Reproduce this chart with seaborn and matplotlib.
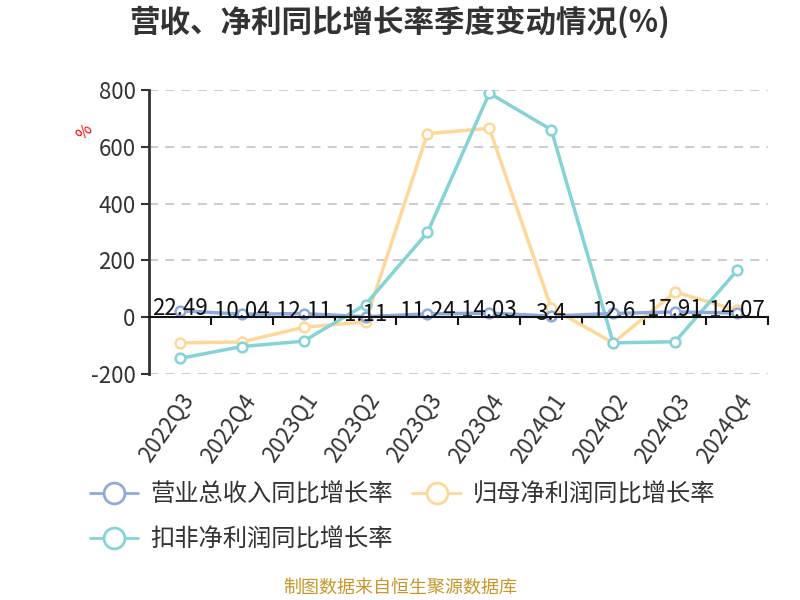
import matplotlib
matplotlib.use('Agg')
import matplotlib.pyplot as plt
import seaborn as sns
import pandas as pd
from matplotlib.ticker import FixedLocator
from matplotlib.lines import Line2D

# data
quarters = ['2022Q3', '2022Q4', '2023Q1', '2023Q2', '2023Q3',
            '2023Q4', '2024Q1', '2024Q2', '2024Q3', '2024Q4']
revenue_yoy = [22.49, 10.04, 12.11, 1.11, 11.24, 14.03, 3.4, 12.6, 17.91, 14.07]
net_profit_yoy = [-91, -88, -36, -17, 646, 665, 32, -91, 88, 24]
deducted_profit_yoy = [-146, -104, -85, 44, 298, 789, 660, -91, -87, 164]

series_names = ['营业总收入同比增长率', '归母净利润同比增长率', '扣非净利润同比增长率']
colors = ['#8eaadc', '#ffd899', '#84d4d7']

sns.set_style('white')
plt.rcParams['font.family'] = ['Noto Sans CJK SC', 'DejaVu Sans']
plt.rcParams['axes.unicode_minus'] = False

df = pd.DataFrame({'quarter': quarters,
                   series_names[0]: revenue_yoy,
                   series_names[1]: net_profit_yoy,
                   series_names[2]: deducted_profit_yoy})
long_df = df.melt(id_vars='quarter', var_name='series', value_name='value')
long_df['pos'] = long_df['quarter'].map({q: i for i, q in enumerate(quarters)})

fig = plt.figure(figsize=(8, 6), dpi=100)
ax = fig.add_axes([0.186, 0.377, 0.774, 0.473])

# draw revenue last so it sits on top
for name, color in zip([series_names[1], series_names[2], series_names[0]],
                       [colors[1], colors[2], colors[0]]):
    sub = long_df[long_df['series'] == name]
    sns.lineplot(data=sub, x='pos', y='value', ax=ax, color=color, linewidth=2.5,
                 marker='o', markersize=7, markerfacecolor='white',
                 markeredgecolor=color, markeredgewidth=1.8, legend=False)

# value labels on revenue line
for i, v in enumerate(revenue_yoy):
    ax.text(i, v + 8, f'{v:g}', ha='center', va='center', fontsize=16, color='#111111')

ax.set_xlim(-0.5, len(quarters) - 0.5)
ax.set_ylim(-200, 800)
ax.set_yticks([-200, 0, 200, 400, 600, 800])
ax.tick_params(axis='y', labelsize=16, labelcolor='#333333', length=6, width=1.5,
               color='#333333', direction='out', left=True)
ax.yaxis.grid(True, linestyle=(0, (5, 4)), color='#c8c8c8', linewidth=1.3)
ax.xaxis.grid(False)

for s in ['top', 'right']:
    ax.spines[s].set_visible(False)
ax.spines['left'].set_color('#333333')
ax.spines['left'].set_linewidth(2)
ax.spines['bottom'].set_position(('data', 0))
ax.spines['bottom'].set_color('#111111')
ax.spines['bottom'].set_linewidth(1.5)

ax.set_xticks(range(len(quarters)))
ax.set_xticklabels(quarters, rotation=55, ha='right', rotation_mode='anchor')
ax.xaxis.set_minor_locator(FixedLocator([i + 0.5 for i in range(len(quarters))]))
ax.tick_params(axis='x', which='major', length=0, pad=52, labelsize=16,
               labelcolor='#333333')
ax.tick_params(axis='x', which='minor', length=6, width=1.5, color='#111111',
               direction='out', bottom=True)
ax.set_xlabel('')
ax.set_ylabel('')

ax.text(-0.103, 0.85, '%', transform=ax.transAxes, color='red', fontsize=12,
        rotation=45, ha='center', va='center')

fig.text(0.5, 0.962, '营收、净利同比增长率季度变动情况(%)', ha='center', va='center',
         fontsize=22, fontweight='bold', color='#333333')

# legend filled column-wise, so order handles to read row by row
order = [0, 2, 1]
handles = [Line2D([0], [0], color=colors[k], linewidth=2, marker='o', markersize=15,
                  markerfacecolor='white', markeredgecolor=colors[k], markeredgewidth=2)
           for k in order]
fig.legend(handles, [series_names[k] for k in order], loc='upper left',
           bbox_to_anchor=(0.112, 0.197), bbox_transform=fig.transFigure,
           ncol=2, frameon=False, fontsize=17.5, labelcolor='#333333',
           handlelength=2.0, handletextpad=0.5, columnspacing=0.8,
           labelspacing=0.78, borderaxespad=0, borderpad=0)

fig.text(0.5, 0.02, '制图数据来自恒生聚源数据库', ha='center', va='center',
         fontsize=13, color='#c8962a')

fig.savefig('out.png', dpi=100)
